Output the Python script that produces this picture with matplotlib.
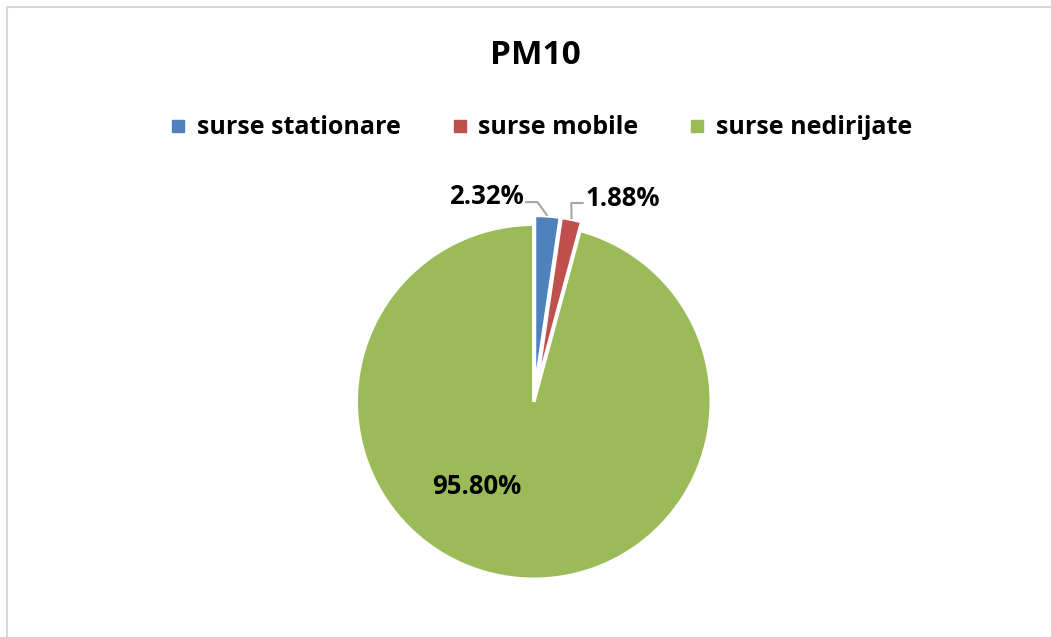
import numpy as np
import matplotlib.pyplot as plt
from matplotlib.lines import Line2D

labels = ['surse stationare', 'surse mobile', 'surse nedirijate']
values = [2.32, 1.88, 95.80]
colors = ['#4F81BD', '#C0504D', '#9BBB59']

plt.rcParams['font.family'] = ['Open Sans', 'DejaVu Sans']

W, H = 1051, 637
fig = plt.figure(figsize=(W / 100, H / 100), dpi=100)

# pie axes: centre at (534, 400) px, radius 177.5 px
R = 177.5
cx, cy = 534, 400
half = 1.3
side = 2 * half * R
ax = fig.add_axes([(cx - side / 2) / W, (H - cy - side / 2) / H, side / W, side / H])

explode = [0.04, 0.04, 0.01]
wedges, _ = ax.pie(values, colors=colors, startangle=90, counterclock=False,
                   explode=explode, radius=1.0,
                   wedgeprops=dict(edgecolor='white', linewidth=2.5))
ax.set_xlim(-half, half)
ax.set_ylim(-half, half)
ax.set_aspect('equal')
ax.axis('off')

# labels
fsz = 18.5
for i, w in enumerate(wedges):
    ang = np.deg2rad((w.theta1 + w.theta2) / 2)
    txt = '%.2f%%' % values[i]
    if i == 2:
        ax.text(-0.32, -0.49, txt, ha='center', va='center', fontsize=fsz,
                fontweight='bold', color='black')
        continue
    r = 1.0 + explode[i]
    px, py = r * np.cos(ang), r * np.sin(ang)
    if i == 0:
        elbow = (0.02, 1.115)
        end = (-0.05, 1.115)
        ax.text(-0.055, 1.145, txt, ha='right', va='center', fontsize=fsz,
                fontweight='bold', color='black')
    else:
        elbow = (0.21, 1.11)
        end = (0.28, 1.11)
        ax.text(0.29, 1.135, txt, ha='left', va='center', fontsize=fsz,
                fontweight='bold', color='black')
    ax.plot([px, elbow[0], end[0]], [py, elbow[1], end[1]], color='#A6A6A6',
            lw=1.5, solid_capstyle='butt', clip_on=False)

# title
fig.text(535 / W, 1 - 55 / H, 'PM10', ha='center', va='center', fontsize=24,
         fontweight='bold', color='black')

# legend
handles = [Line2D([], [], marker='s', linestyle='none', markersize=9,
                  markerfacecolor=c, markeredgecolor=c) for c in colors]
leg = fig.legend(handles, labels, loc='center', bbox_to_anchor=(541 / W, 1 - 128 / H),
                 ncol=3, frameon=False, handlelength=0.7, handletextpad=0.4,
                 columnspacing=2.0, prop=dict(size=18, weight='bold'))

# chart border (top and left visible)
fig.add_artist(Line2D([7 / W, 1], [1 - 7 / H, 1 - 7 / H], color='#D9D9D9', lw=1.5,
                      transform=fig.transFigure))
fig.add_artist(Line2D([7 / W, 7 / W], [0, 1 - 7 / H], color='#D9D9D9', lw=1.5,
                      transform=fig.transFigure))

fig.savefig('out.png', dpi=100, facecolor='white')
